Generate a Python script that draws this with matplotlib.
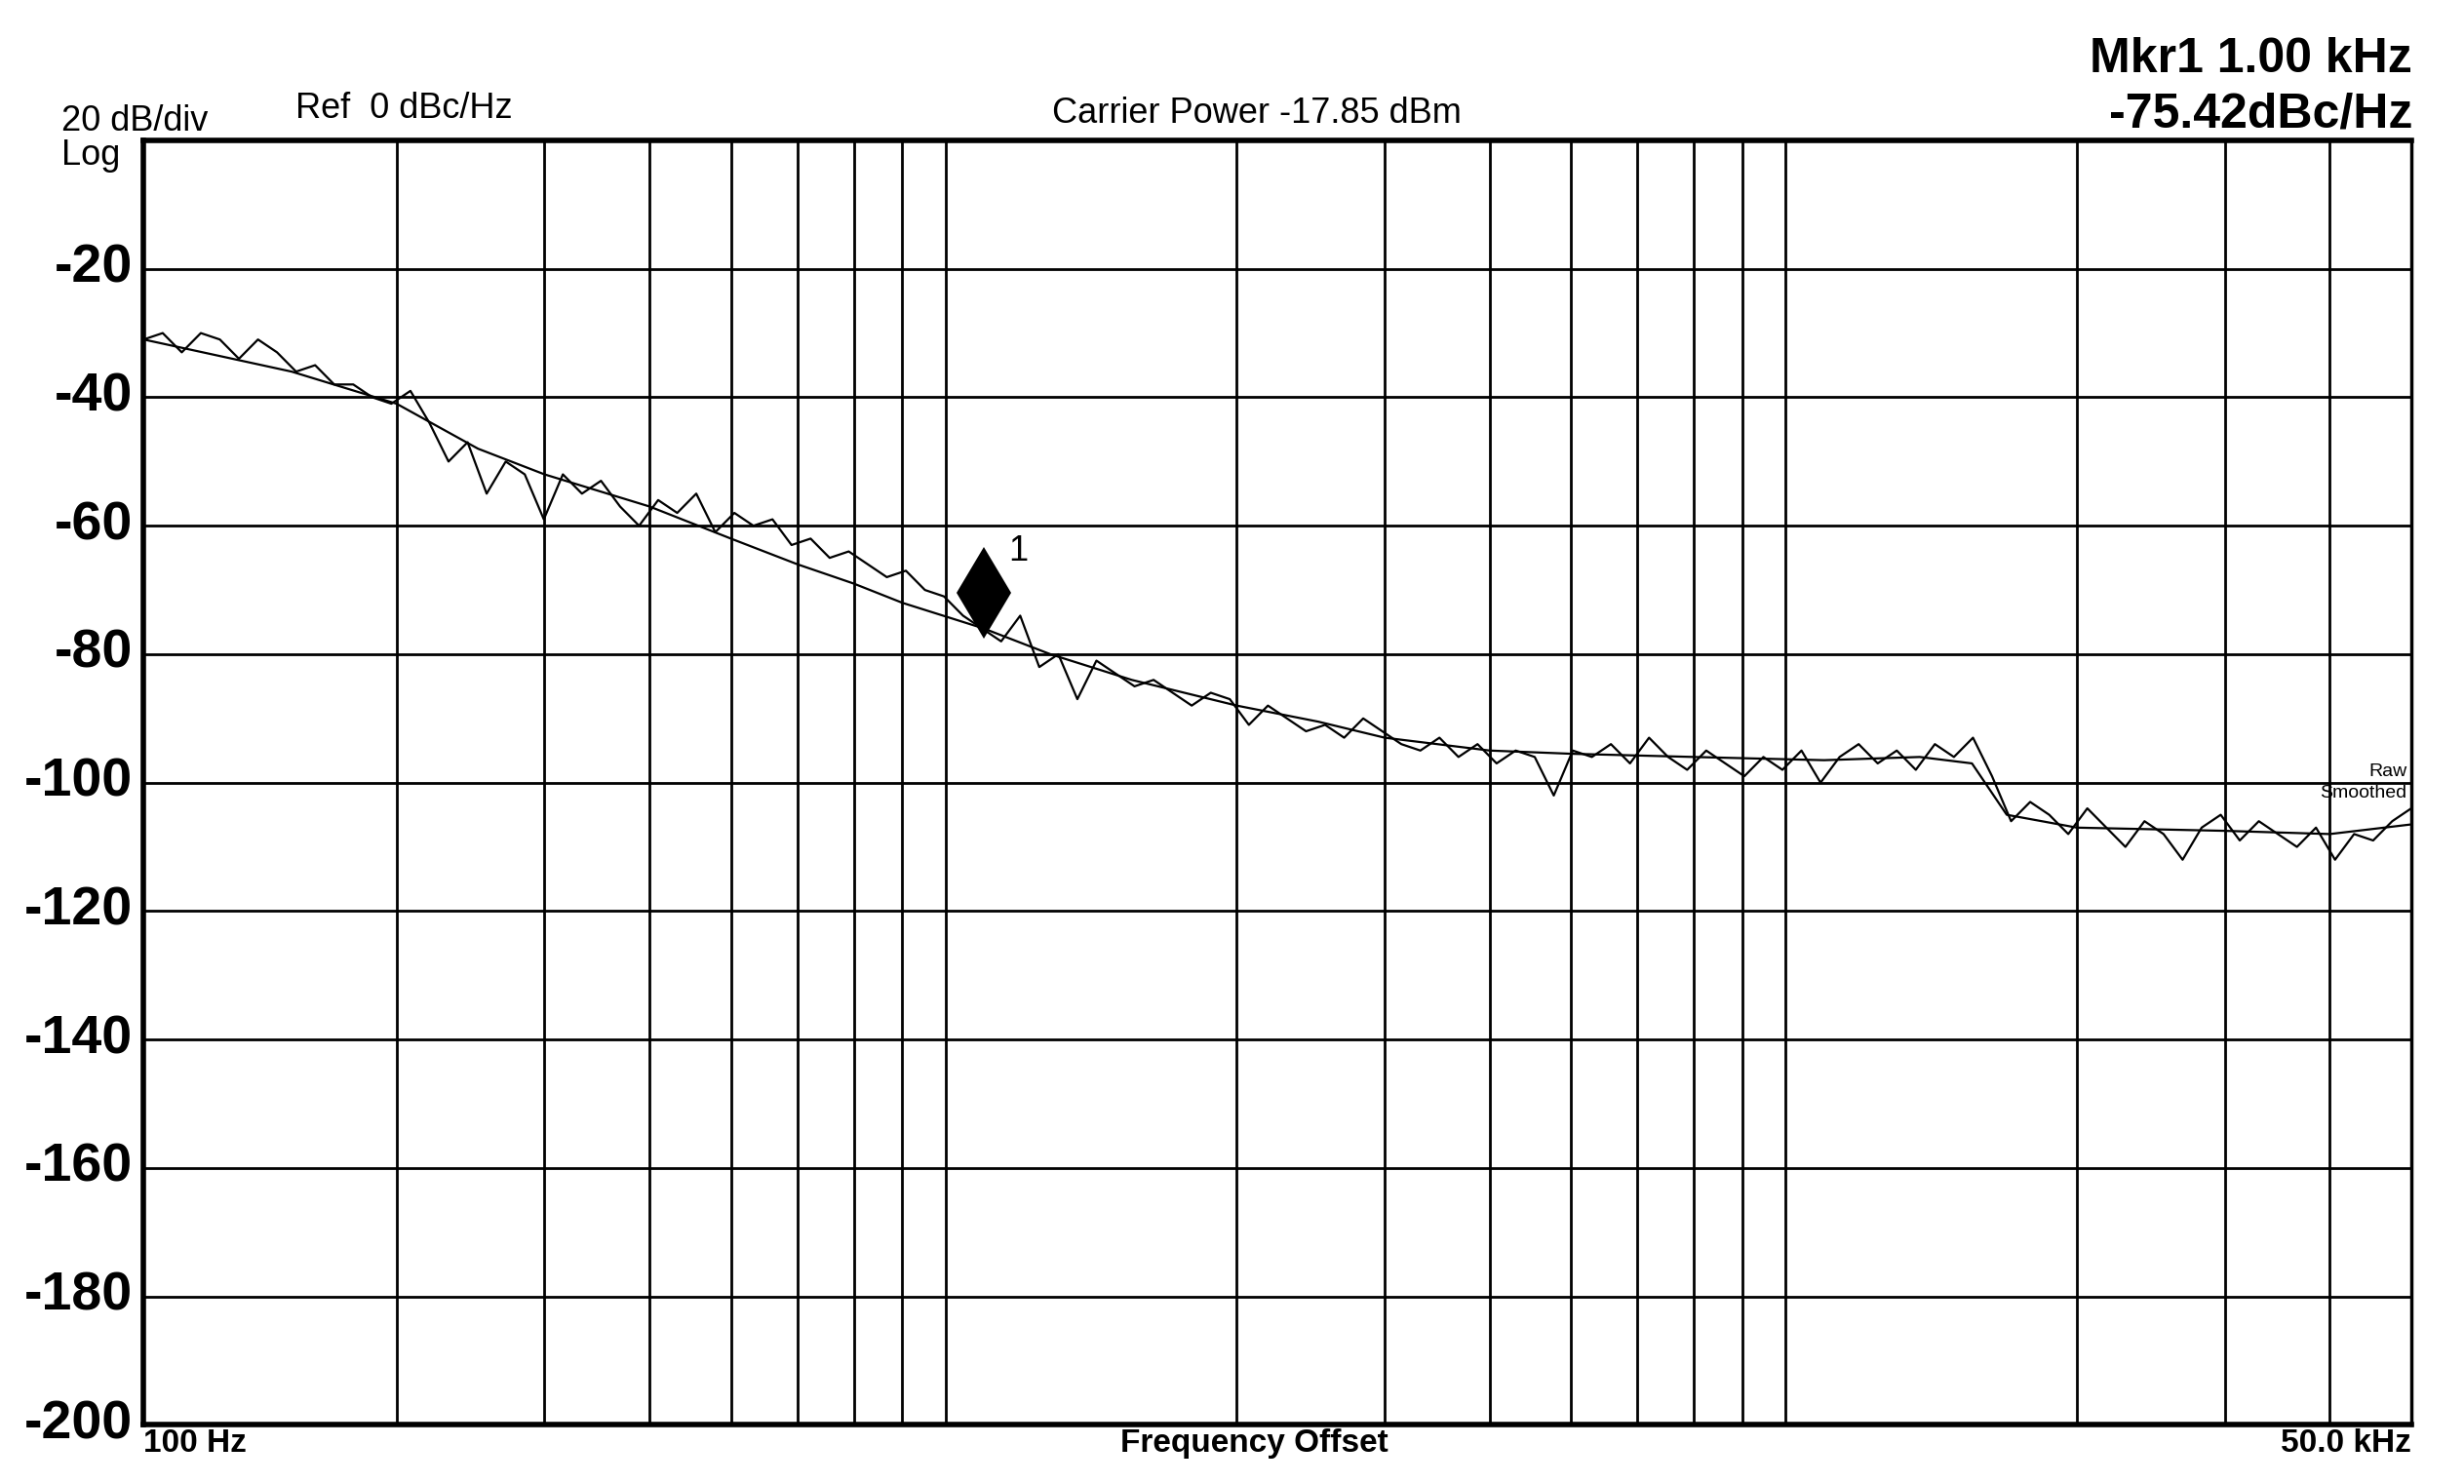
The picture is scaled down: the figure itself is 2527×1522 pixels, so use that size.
import numpy as np
import matplotlib
matplotlib.use("Agg")
import matplotlib.pyplot as plt

plt.rcParams['font.family'] = ['Liberation Sans', 'DejaVu Sans']

raw_db = [-31,-30,-33,-30,-31,-34,-31,-33,-36,-35,-38,
          -38,-40,-41,-39,-44,-50,-47,-55,-50,-52,-59,
          -52,-55,-53,-57,-60,-56,-58,-55,-61,-58,-60,-59,
          -63,-62,-65,-64,-66,-68,-67,-70,-71,-74,-76,
          -78,-74,-82,-80,-87,-81,-83,-85,-84,-86,-88,
          -86,-87,-91,-88,-90,-92,-91,-93,-90,-92,-94,
          -95,-93,-96,-94,-97,-95,-96,-102,-95,-96,-94,
          -97,-93,-96,-98,-95,-97,-99,-96,-98,-95,-100,
          -96,-94,-97,-95,-98,-94,-96,-93,-99,-106,-103,
          -105,-108,-104,-107,-110,-106,-108,-112,-107,-105,-109,
          -106,-108,-110,-107,-112,-108,-109,-106,-104]
raw_freq = np.geomspace(100, 50000, len(raw_db))

smooth_freq = [100,150,200,250,300,400,500,600,700,800,1000,1200,1500,2000,2500,3000,
               4000,5000,7000,10000,13000,15000,16500,20000,30000,40000,50000]
smooth_db = [-31,-36,-41,-48,-52,-57,-62,-66,-69,-72,-76,-80,-84,-88,-90.5,-93,
             -95,-95.5,-96,-96.5,-96,-97,-105,-107,-107.5,-108,-106.5]

yticks = [-20,-40,-60,-80,-100,-120,-140,-160,-180,-200]
marker_freq, marker_db = 1000, -70.5

fig = plt.figure(figsize=(25.27, 15.22), dpi=100)
ax = fig.add_axes([0.0583, 0.0398, 0.9203, 0.8656])
ax.set_xscale('log')
ax.set_xlim(100, 50000)
ax.set_ylim(-200, 0)

gx = [m*10**e for e in (2,3,4) for m in range(2,10) if m*10**e < 50000]
for g in gx:
    ax.axvline(g, color='black', lw=2)
for y in yticks[:-1]:
    ax.axhline(y, color='black', lw=2)
for s in ax.spines.values():
    s.set_linewidth(2.5)
ax.spines['top'].set_linewidth(4)
ax.spines['left'].set_linewidth(4)
ax.spines['bottom'].set_linewidth(4)

ax.plot(raw_freq, raw_db, color='black', lw=1.6)
ax.plot(smooth_freq, smooth_db, color='black', lw=1.6)
ax.plot([marker_freq], [marker_db], marker='d', ms=48, color='black', mew=0)
ax.text(1070, -64, '1', fontsize=26, ha='left', va='center')

ax.set_xticks([]); ax.set_yticks([])
ax.minorticks_off()
for y in yticks:
    ax.text(-0.005, y, str(y), transform=ax.get_yaxis_transform(), ha='right',
            va='center', fontsize=40, fontweight='bold')

ax.text(0.0, -0.003, '100 Hz', transform=ax.transAxes, ha='left', va='top', fontsize=24, fontweight='bold')
ax.text(0.49, -0.003, 'Frequency Offset', transform=ax.transAxes, ha='center', va='top', fontsize=24, fontweight='bold')
ax.text(1.0, -0.003, '50.0 kHz', transform=ax.transAxes, ha='right', va='top', fontsize=24, fontweight='bold')

ax.text(0.998, -98.3, 'Raw', ha='right', va='center', fontsize=14, transform=ax.get_yaxis_transform())
ax.text(0.998, -101.7, 'Smoothed', ha='right', va='center', fontsize=14, transform=ax.get_yaxis_transform())

fig.text(0.025, 0.907, '20 dB/div', fontsize=26, ha='left', va='bottom')
fig.text(0.025, 0.907, 'Log', fontsize=26, ha='left', va='top')
fig.text(0.12, 0.915, 'Ref  0 dBc/Hz', fontsize=26, ha='left', va='bottom')
fig.text(0.51, 0.912, 'Carrier Power -17.85 dBm', fontsize=26, ha='center', va='bottom')
fig.text(0.979, 0.945, 'Mkr1 1.00 kHz', fontsize=36, fontweight='bold', ha='right', va='bottom')
fig.text(0.979, 0.908, '-75.42dBc/Hz', fontsize=36, fontweight='bold', ha='right', va='bottom')

fig.savefig('out.png', dpi=100)
